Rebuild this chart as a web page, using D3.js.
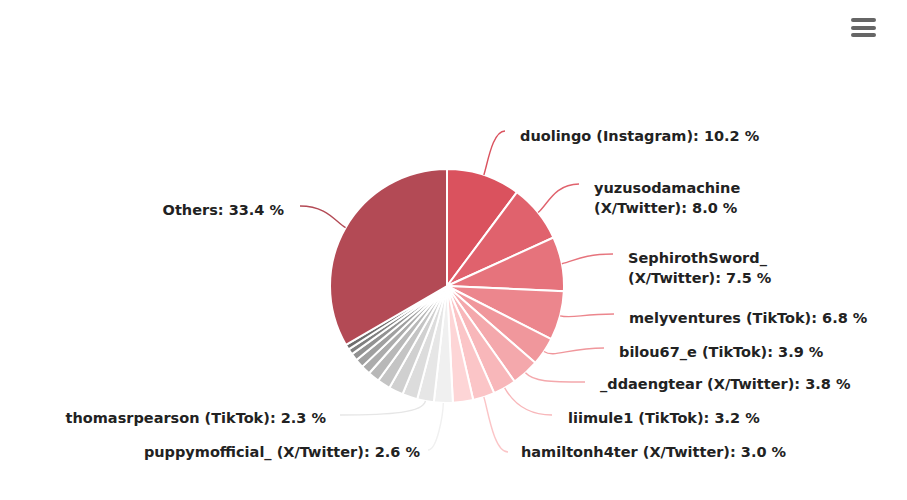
<!DOCTYPE html>
<html lang="en">
<head>
<meta charset="utf-8">
<title>Top accounts share</title>
<script src="https://d3js.org/d3.v7.min.js"></script>
<style>
body{
  margin: 0;
  background: #fff;
}
#chart text{
  font: bold 14.5px "DejaVu Sans", sans-serif;
  fill: #222;
}
</style>
</head>
<body>
<div id="chart"></div>
<script>
// values, clockwise from 12 o'clock
var names = ["duolingo (Instagram)", "yuzusodamachine|(X/Twitter)", "SephirothSword_|(X/Twitter)",
  "melyventures (TikTok)", "bilou67_e (TikTok)", "_ddaengtear (X/Twitter)", "liimule1 (TikTok)",
  "hamiltonh4ter (X/Twitter)", "", "puppymofficial_ (X/Twitter)", "thomasrpearson (TikTok)",
  "", "", "", "", "", "", "", "", "", "Others"];
var values = [10.2, 8.0, 7.5, 6.8, 3.9, 3.8, 3.2, 3.0, 2.8, 2.6, 2.3,
  2.1, 2.0, 1.8, 1.6, 1.3, 1.2, 1.0, 0.8, 0.7, 33.4];
var colors = ["#da525e", "#e0626d", "#e6737c", "#ec868d", "#f0979c", "#f4a8ac", "#f8b7ba",
  "#fbc5c7", "#fdd5d6", "#f0f0f0", "#e6e6e6", "#dcdcdc", "#d0d0d0", "#c4c4c4", "#b8b8b8",
  "#acacac", "#a0a0a0", "#929292", "#808080", "#6e6e6e", "#b34a55"];

// where each label goes: left edge (or right edge for end anchored), baseline, leader end
var labelX = [520, 594, 628, 629, 619, 600, 568, 521, 0, 420, 326, 0, 0, 0, 0, 0, 0, 0, 0, 0, 284];
var labelY = [141, 193, 263, 323, 357, 389, 423, 457, 0, 457, 423, 0, 0, 0, 0, 0, 0, 0, 0, 0, 215];
var leaderX = [505, 579, 613, 614, 604, 585, 552, 508, 0, 428, 340, 0, 0, 0, 0, 0, 0, 0, 0, 0, 300];
var leaderY = [131, 184, 254, 314, 348, 382, 415, 452, 0, 450, 415, 0, 0, 0, 0, 0, 0, 0, 0, 0, 206];

var width = 907, height = 500;
var cx = 447, cy = 286, radius = 117;

var svg = d3.select("#chart").append("svg")
  .attr("width", width)
  .attr("height", height)
  .style("display", "block");

var pie = d3.pie().sort(null).value(function(d) { return d; });
var arcs = pie(values);
var arc = d3.arc().innerRadius(0).outerRadius(radius);

var g = svg.append("g").attr("transform", "translate(" + cx + "," + cy + ")");

g.selectAll("path.slice")
  .data(arcs)
  .enter()
  .append("path")
  .attr("class", "slice")
  .attr("d", arc)
  .attr("fill", function(d, i) { return colors[i]; })
  .attr("stroke", "#fff")
  .attr("stroke-width", 2);

function rimPoint(d, r) {
  var a = (d.startAngle + d.endAngle) / 2;
  return [cx + r * Math.sin(a), cy - r * Math.cos(a)];
}

arcs.forEach(function(d, i) {
  if (!names[i]) return;
  var left = d.startAngle > 2.9 && i > 8;
  var endX = leaderX[i], endY = leaderY[i];
  var p0 = rimPoint(d, radius);
  var dist = Math.hypot(endX - p0[0], endY - p0[1]);
  var c1 = rimPoint(d, radius + Math.min(dist * 0.3, 12));
  // leaves the rim radially and comes into the label flat
  var lead = d3.path();
  lead.moveTo(p0[0], p0[1]);
  lead.bezierCurveTo(c1[0], c1[1], endX + (p0[0] - endX) * 0.6, endY, endX, endY);
  svg.append("path")
    .attr("d", lead.toString())
    .attr("fill", "none")
    .attr("stroke", colors[i])
    .attr("stroke-width", 1.4);

  var lines = names[i].split("|");
  lines[lines.length - 1] += ": " + d3.format(".1f")(values[i]) + " %";
  var t = svg.append("text")
    .attr("x", labelX[i])
    .attr("y", labelY[i])
    .attr("text-anchor", left ? "end" : "start");
  lines.forEach(function(s, j) {
    t.append("tspan").attr("x", labelX[i]).attr("dy", j ? 20 : 0).text(s);
  });
});

// export menu icon
svg.selectAll("line.menu")
  .data([20, 28, 35])
  .enter()
  .append("line")
  .attr("class", "menu")
  .attr("x1", 853).attr("x2", 874)
  .attr("y1", function(d) { return d; })
  .attr("y2", function(d) { return d; })
  .attr("stroke", "#666")
  .attr("stroke-width", 4)
  .attr("stroke-linecap", "round");
</script>
</body>
</html>
